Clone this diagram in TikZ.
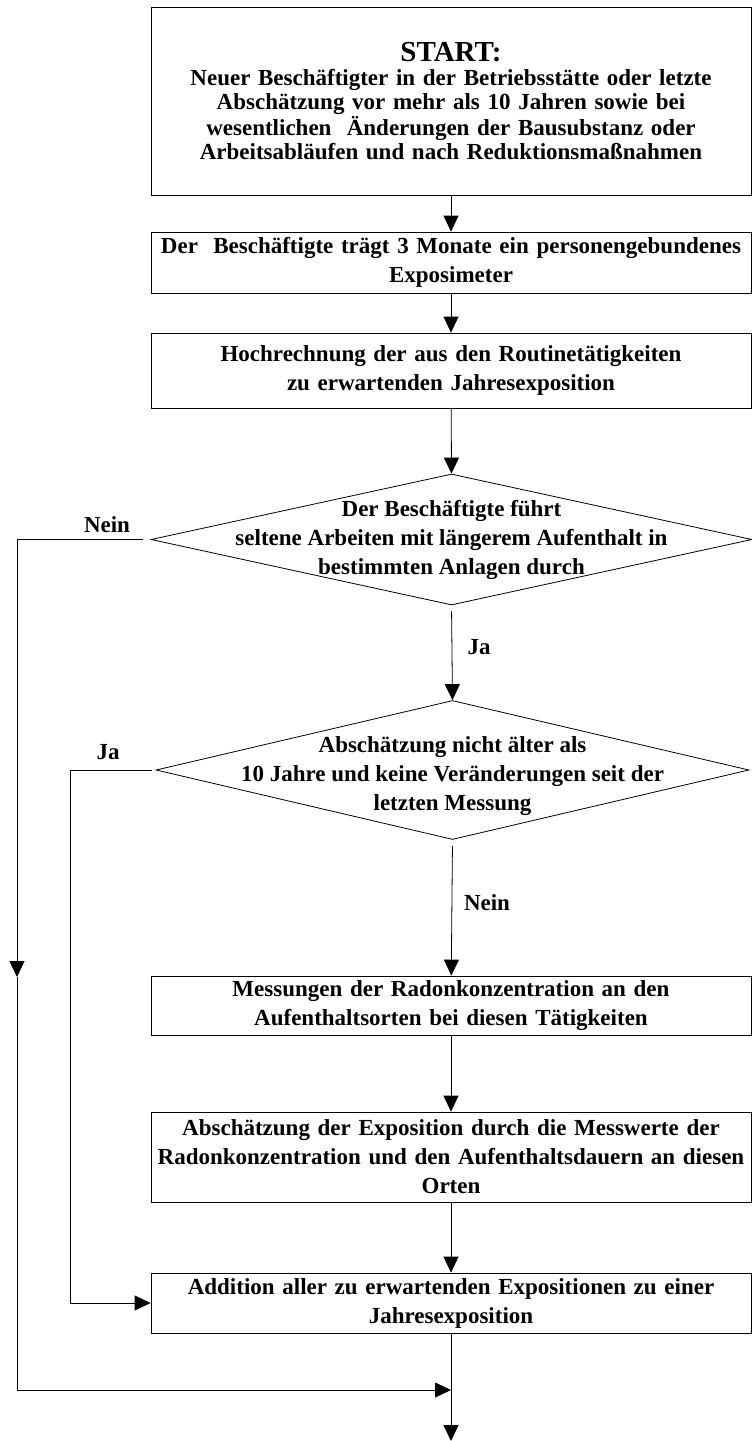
\documentclass[tikz,border=0pt]{standalone}
\usepackage{fontspec}
\setmainfont{Liberation Serif}
\usetikzlibrary{shapes.geometric,arrows.meta}
\newcommand{\txt}{\fontsize{23}{29}\selectfont\bfseries}
\tikzset{
	box/.style={draw, line width=0.8pt, minimum width=600pt, text width=600pt, align=center, inner sep=0pt, font=\txt},
	decision/.style={draw, diamond, line width=0.8pt, inner sep=0pt},
	dtext/.style={align=center, inner sep=0pt, font=\txt},
	lbl/.style={inner sep=0pt, font=\txt},
}
\begin{document}
\begin{tikzpicture}[x=1pt, y=-1pt, >={Triangle[length=16pt,width=15pt]}, line width=0.8pt]
		\useasboundingbox (0,0) rectangle (752,1441);
		\node[box, minimum height=188pt, font=\fontsize{23}{24}\selectfont\bfseries] (start) at (451,101)
			{{\fontsize{29}{30}\selectfont START:}\\Neuer Beschäftigter in der Betriebsstätte oder letzte\\Abschätzung vor mehr als 10 Jahren sowie bei\\wesentlichen\ \ Änderungen der Bausubstanz oder\\Arbeitsabläufen und nach Reduktionsmaßnahmen};
		\node[box, minimum height=61pt] (expo) at (451,262.5)
			{Der\ \ Beschäftigte trägt 3 Monate ein personengebundenes\\Exposimeter};
		\node[box, minimum height=75pt] (hoch) at (451,370.5)
			{Hochrechnung der aus den Routinetätigkeiten\\zu erwartenden Jahresexposition};
		\node[decision, minimum width=601pt, minimum height=131pt] (selten) at (451.5,539.5) {};
		\node[dtext] (seltentxt) at (451.5,540)
			{Der Beschäftigte führt\\seltene Arbeiten mit längerem Aufenthalt in\\bestimmten Anlagen durch};
		\node[decision, minimum width=593pt, minimum height=139pt] (alter) at (452.5,770) {};
		\node[dtext] (altertxt) at (452.5,776)
			{Abschätzung nicht älter als\\10 Jahre und keine Veränderungen seit der\\letzten Messung};
		\node[box, minimum height=59pt] (mess) at (451,1005.5)
			{Messungen der Radonkonzentration an den\\Aufenthaltsorten bei diesen Tätigkeiten};
		\node[box, minimum height=90pt] (absch) at (451,1157)
			{Abschätzung der Exposition durch die Messwerte der\\Radonkonzentration und den Aufenthaltsdauern an diesen\\Orten};
		\node[box, minimum height=60pt] (add) at (451,1303)
			{Addition aller zu erwartenden Expositionen zu einer\\Jahresexposition};
		\node[lbl] (nein1) at (107,525) {Nein};
		\node[lbl] (ja1) at (479,647) {Ja};
		\node[lbl] (ja2) at (108,752) {Ja};
		\node[lbl] (nein2) at (487,903) {Nein};
		\coordinate (neinL) at (17,539.5);
		\coordinate (neinM) at (17,977);
		\coordinate (jaL) at (70,770);
		\coordinate (join) at (451,1390);
		\coordinate (end) at (451,1441);
		\draw[->] (start) -- (expo);
		\draw[->] (expo) -- (hoch);
		\draw[->] (hoch) -- (selten.north);
		\draw[->, shorten <=6pt] (selten.south) -- (alter.north);
		\draw[->, shorten <=6pt] (alter.south) -- (mess);
		\draw[->] (mess) -- (absch);
		\draw[->] (absch) -- (add);
		\draw[->] (add) -- (end);
		\draw[shorten <=8pt] (selten.west) -- (neinL);
		\draw[->] (neinL) -- (neinM);
		\draw[->] (neinM) |- (join);
		\draw[shorten <=4pt] (alter.west) -- (jaL);
		\draw[->] (jaL) |- (add.west);
\end{tikzpicture}
\end{document}
